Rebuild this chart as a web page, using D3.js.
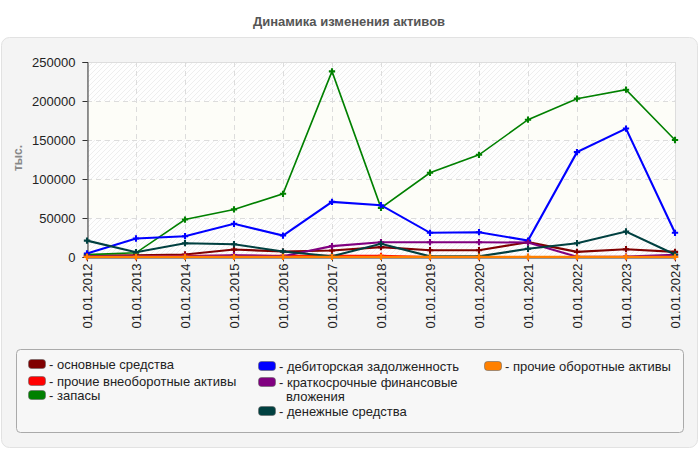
<!DOCTYPE html>
<html lang="ru">
<head>
<meta charset="UTF-8">
<title>Динамика изменения активов</title>
<style>
    body { margin: 0; background: #fff; }
    svg { display: block; font-family: "Liberation Sans", Arial, sans-serif; }
</style>
</head>
<body>
<script src="https://cdnjs.cloudflare.com/ajax/libs/d3/7.8.5/d3.min.js"></script>
<script>
    let width = 700, height = 450

    // периоды
    let dates = ["01.01.2012", "01.01.2013", "01.01.2014", "01.01.2015", "01.01.2016", "01.01.2017", "01.01.2018",
                 "01.01.2019", "01.01.2020", "01.01.2021", "01.01.2022", "01.01.2023", "01.01.2024"]
    let yTicks = [0, 50000, 100000, 150000, 200000, 250000]

    // значения, тыс.
    let osnovnye    = [2000, 2300, 3200, 9600, 7000, 8300, 12600, 8700, 8700, 19000, 6600, 10000, 6600]
    let prochieVneob = [0, 0, 1500, 1500, 1500, 1500, 1500, 0, 0, 0, 0, 0, 0]
    let zapasy      = [3000, 5400, 48000, 61000, 81000, 238000, 63000, 108000, 131000, 176000, 203000, 214500, 150000]
    let debitorka   = [4500, 23700, 26700, 42500, 27500, 70700, 66400, 31000, 31800, 21100, 134400, 164700, 31000]
    let kfv         = [1000, 1000, 1000, 2300, 1000, 13900, 19000, 19000, 19000, 18500, 300, 500, 2800]
    let dengi       = [21000, 6200, 17700, 16400, 7000, 1000, 16900, 800, 800, 10500, 17700, 32700, 3200]
    let prochieOb   = [200, 200, 200, 200, 200, 200, 200, 200, 200, 200, 200, 200, 200]

    let series = [
        {name: "основные средства", color: "#800000", values: osnovnye},
        {name: "прочие внеоборотные активы", color: "#ff0000", values: prochieVneob},
        {name: "запасы", color: "#008000", values: zapasy, w: 1.6},
        {name: "дебиторская задолженность", color: "#0000ff", values: debitorka},
        {name: "краткосрочные финансовые|вложения", color: "#800080", values: kfv},
        {name: "денежные средства", color: "#004040", values: dengi},
        {name: "прочие оборотные активы", color: "#ff8000", values: prochieOb}
    ]

    let m = {left: 87, right: 675, top: 62, bottom: 257}

    let svg = d3.select("body").append("svg")
        .attr("width", width)
        .attr("height", height)

    let defs = svg.append("defs")
    let pat = defs.append("pattern")
        .attr("id", "hatch")
        .attr("patternUnits", "userSpaceOnUse")
        .attr("width", 5).attr("height", 5)
    pat.append("rect").attr("width", 5).attr("height", 5).attr("fill", "#fefefe")
    pat.append("path").attr("d", "M-1,1 l2,-2 M0,5 l5,-5 M4,6 l2,-2")
        .attr("stroke", "#eeeeee").attr("stroke-width", 1)

    // заголовок
    svg.append("text")
        .attr("x", 349).attr("y", 26)
        .attr("text-anchor", "middle")
        .attr("font-size", 13).attr("font-weight", "bold")
        .attr("fill", "#555")
        .text("Динамика изменения активов")

    // фон панели
    svg.append("rect")
        .attr("x", 1.5).attr("y", 37.5).attr("width", 696).attr("height", 410)
        .attr("rx", 8)
        .attr("fill", "#f4f4f4").attr("stroke", "#e2e2e2")

    let x = d3.scalePoint().domain(dates).range([m.left, m.right])
    let y = d3.scaleLinear().domain([0, 250000]).range([m.bottom, m.top])

    // полосы
    let bands = d3.range(yTicks.length - 1)
    svg.selectAll("rect.band")
        .data(bands)
        .enter().append("rect")
        .attr("class", "band")
        .attr("x", m.left).attr("width", m.right - m.left)
        .attr("y", i => y(yTicks[i + 1]))
        .attr("height", i => y(yTicks[i]) - y(yTicks[i + 1]))
        .attr("fill", i => i % 2 == 0 ? "url(#hatch)" : "#fdfdf8")

    svg.append("rect")
        .attr("x", m.left + 0.5).attr("y", m.top + 0.5)
        .attr("width", m.right - m.left).attr("height", m.bottom - m.top)
        .attr("fill", "none").attr("stroke", "#dddddd")

    // сетка
    svg.append("g").selectAll("line")
        .data(yTicks.slice(1, -1))
        .enter().append("line")
        .attr("x1", m.left).attr("x2", m.right)
        .attr("y1", d => Math.round(y(d)) + 0.5).attr("y2", d => Math.round(y(d)) + 0.5)
        .attr("stroke", "#dcdcdc").attr("stroke-dasharray", "5,4")
    svg.append("g").selectAll("line")
        .data(dates.slice(1, -1))
        .enter().append("line")
        .attr("y1", m.top).attr("y2", m.bottom)
        .attr("x1", d => Math.round(x(d)) + 0.5).attr("x2", d => Math.round(x(d)) + 0.5)
        .attr("stroke", "#dcdcdc").attr("stroke-dasharray", "5,4")

    // оси
    let yAxis = svg.append("g")
        .attr("transform", `translate(${m.left + 0.5},0)`)
        .call(d3.axisLeft(y).tickValues(yTicks).tickFormat(d3.format("d")).tickSize(5).tickPadding(7))
    yAxis.selectAll("text").attr("font-size", 13).attr("fill", "#222").attr("font-family", "Liberation Sans, Arial")
    yAxis.selectAll("line, path").attr("stroke", "#333")

    let xAxis = svg.append("g")
        .attr("transform", `translate(0,${m.bottom + 0.5})`)
        .call(d3.axisBottom(x).tickSize(4).tickSizeOuter(0))
    xAxis.select("path").attr("stroke", "#333")
    xAxis.selectAll("line").attr("stroke", "#333")
    xAxis.selectAll("text")
        .attr("font-size", 13).attr("fill", "#222").attr("font-family", "Liberation Sans, Arial")
        .attr("transform", "rotate(-90)")
        .attr("text-anchor", "end")
        .attr("x", -6).attr("y", 0).attr("dy", "0.35em")

    // подпись оси
    svg.append("text")
        .attr("transform", "translate(22,158) rotate(-90)")
        .attr("text-anchor", "middle")
        .attr("font-size", 12).attr("font-weight", "bold")
        .attr("fill", "#888")
        .text("тыс.")

    // линии
    let line = d3.line()
        .x((d, i) => x(dates[i]))
        .y(d => y(d))
    let marker = d3.symbol().type(d3.symbolCross).size(22)

    series.forEach(s => {
        let g = svg.append("g")
        g.append("path")
            .datum(s.values)
            .attr("d", line)
            .attr("fill", "none")
            .attr("stroke", s.color)
            .attr("stroke-width", s.w || 2.1)
        g.selectAll("path.pt")
            .data(s.values)
            .enter().append("path")
            .attr("class", "pt")
            .attr("d", marker)
            .attr("transform", (d, i) => `translate(${x(dates[i])},${y(d)})`)
            .attr("fill", s.color)
    })

    // легенда
    svg.append("rect")
        .attr("x", 16.5).attr("y", 349.5).attr("width", 667).attr("height", 83)
        .attr("rx", 4)
        .attr("fill", "#f7f7f7").attr("stroke", "#aaaaaa")

    let legendPos = [
        [28, 364], [28, 381], [28, 395],
        [258, 366], [258, 382], [258, 411],
        [484, 366]
    ]
    let lg = svg.append("g").selectAll("g")
        .data(series)
        .enter().append("g")
        .attr("transform", (d, i) => `translate(${legendPos[i][0]},${legendPos[i][1]})`)
    lg.append("rect")
        .attr("x", 0.5).attr("y", -4.5).attr("width", 17).attr("height", 9)
        .attr("rx", 3)
        .attr("fill", d => d.color).attr("stroke", "#666").attr("stroke-width", 0.6)
    lg.append("text")
        .attr("x", 21).attr("y", 4.5)
        .attr("font-size", 13).attr("fill", "#222")
        .each(function(d) {
            let parts = d.name.split("|")
            let t = d3.select(this)
            parts.forEach((p, k) => {
                t.append("tspan")
                    .attr("x", k == 0 ? 21 : 28)
                    .attr("dy", k == 0 ? 0 : 14)
                    .text(k == 0 ? "- " + p : p)
            })
        })
</script>
</body>
</html>
